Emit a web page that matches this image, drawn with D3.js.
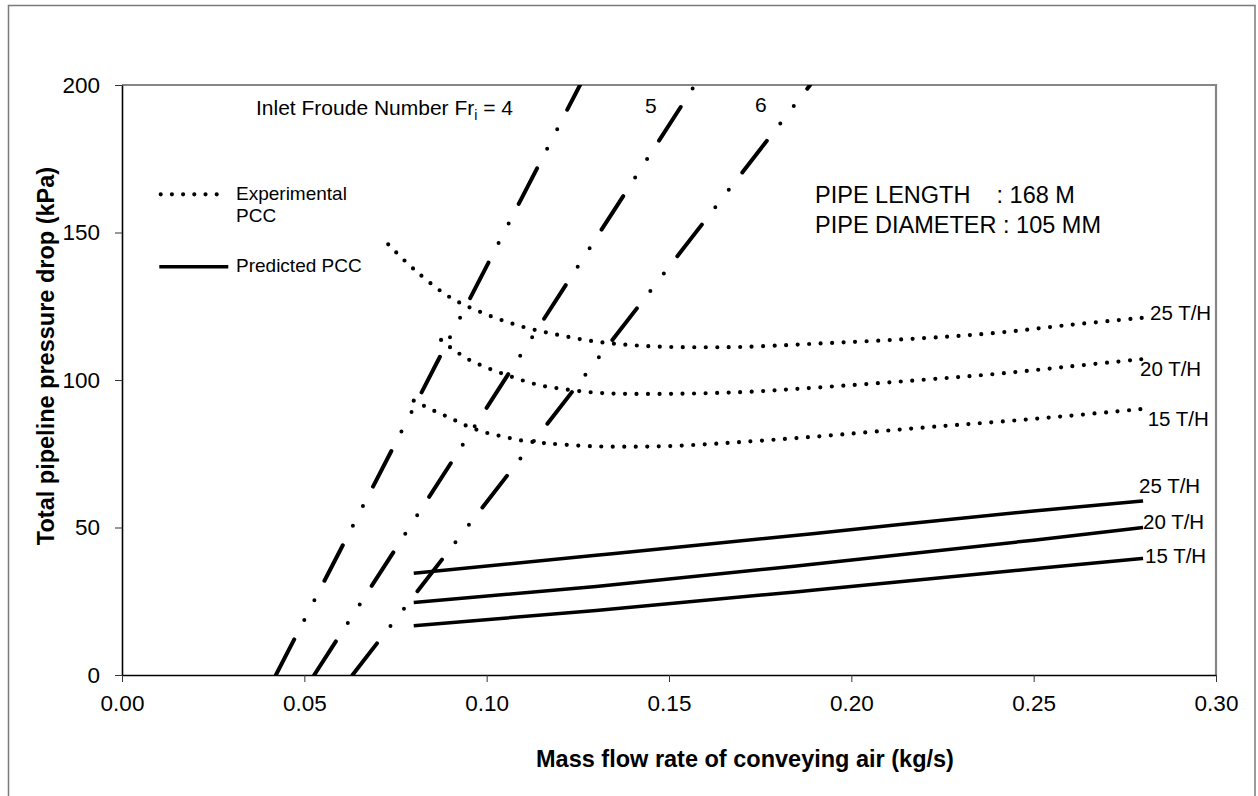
<!DOCTYPE html>
<html>
<head>
<meta charset="utf-8">
<script src="https://cdn.jsdelivr.net/npm/d3@7"></script>
<style>
  html, body { margin: 0; padding: 0; background: #fff; }
  svg text { font-family: "Liberation Sans", Arial, Helvetica, sans-serif; fill: #000; }
</style>
</head>
<body>
<svg id="chart" width="1258" height="796"></svg>
<script>
// ---------- data ----------
const xTicks = [0, 0.05, 0.10, 0.15, 0.20, 0.25, 0.30];
const yTicks = [0, 50, 100, 150, 200];

// Experimental PCC (dotted)
const exp25X = [0.073, 0.08, 0.09, 0.10, 0.11, 0.12, 0.13, 0.14, 0.15, 0.16, 0.17, 0.19, 0.22, 0.24, 0.26, 0.28];
const exp25Y = [146, 137.6, 128.0, 122.2, 118.0, 115.2, 113.0, 111.8, 111.2, 111.1, 111.2, 112.3, 114.2, 116.0, 118.7, 121.1];
const exp20X = [0.0875, 0.09, 0.095, 0.10, 0.105, 0.11, 0.115, 0.12, 0.125, 0.13, 0.135, 0.15, 0.17, 0.19, 0.22, 0.24, 0.26, 0.28];
const exp20Y = [113.6, 111.1, 107.0, 104.2, 101.9, 99.8, 98.1, 97.1, 96.3, 95.7, 95.4, 95.3, 95.9, 97.4, 100.1, 102.1, 104.6, 107.1];
const exp15X = [0.08, 0.085, 0.09, 0.095, 0.10, 0.105, 0.11, 0.115, 0.12, 0.13, 0.14, 0.15, 0.16, 0.17, 0.19, 0.22, 0.24, 0.26, 0.28];
const exp15Y = [93.0, 89.9, 87.1, 84.2, 82.1, 80.7, 79.4, 78.7, 78.2, 77.5, 77.4, 77.6, 78.2, 79.0, 80.8, 83.9, 85.8, 87.9, 90.2];

// Predicted PCC (solid)
const predX = [0.08, 0.13, 0.19, 0.25, 0.28];
const pred25Y = [34.5, 40.6, 48.0, 55.6, 59.0];
const pred20Y = [24.6, 30.0, 37.6, 45.7, 50.0];
const pred15Y = [16.7, 21.9, 28.8, 36.0, 39.5];

// Inlet Froude number lines (x at 0 kPa, x at 200 kPa)
const froudeNumbers = [4, 5, 6];
const froudeX = [[0.0422, 0.1256], [0.0527, 0.1571], [0.0632, 0.1887]];
const froudeY = [0, 200];

const expLabels = ["25 T/H", "20 T/H", "15 T/H"];
const predLabels = ["25 T/H", "20 T/H", "15 T/H"];

// ---------- layout ----------
const svg = d3.select("#chart");
const L = 122, R = 1216, T = 85, B = 675;
const x = d3.scaleLinear().domain([0, 0.30]).range([L, R]);
const y = d3.scaleLinear().domain([0, 200]).range([B, T]);

// outer frame
svg.append("rect").attr("x", 8.5).attr("y", 5.5).attr("width", 1246.5).attr("height", 810)
  .attr("fill", "none").attr("stroke", "#7a7a7a").attr("stroke-width", 1.5);

// plot area top & right border (grey)
svg.append("path")
  .attr("d", `M${L},${T}H${R}V${B}`)
  .attr("fill", "none").attr("stroke", "#868686").attr("stroke-width", 2.2);

const clip = svg.append("defs").append("clipPath").attr("id", "plotclip");
clip.append("rect").attr("x", L).attr("y", T).attr("width", R - L).attr("height", B - T);

// axes
const yAxis = d3.axisLeft(y).tickValues(yTicks).tickSize(7).tickSizeOuter(0).tickPadding(15)
  .tickFormat(d3.format("d"));
const xAxis = d3.axisBottom(x).tickValues(xTicks).tickSize(7).tickSizeOuter(0).tickPadding(13)
  .tickFormat(d3.format(".2f"));

const gy = svg.append("g").attr("transform", `translate(${L},0)`).call(yAxis);
const gx = svg.append("g").attr("transform", `translate(0,${B})`).call(xAxis);
[gx, gy].forEach(g => {
  g.select(".domain").attr("stroke", "#000").attr("stroke-width", 1.6);
  g.selectAll(".tick line").attr("stroke", "#333").attr("stroke-width", 1);
  g.selectAll(".tick text").attr("font-size", 22.5).attr("fill", "#000")
    .style("font-family", '"Liberation Sans", Arial, sans-serif');
});

// axis titles
svg.append("text").attr("x", 745).attr("y", 767).attr("text-anchor", "middle")
  .attr("font-size", 23.5).attr("font-weight", "bold")
  .text("Mass flow rate of conveying air (kg/s)");
svg.append("text").attr("transform", "translate(53.5,356) rotate(-90)").attr("text-anchor", "middle")
  .attr("font-size", 23.5).attr("font-weight", "bold")
  .text("Total pipeline pressure drop (kPa)");

// plot content
const plot = svg.append("g").attr("clip-path", "url(#plotclip)");

const lineCurve = d3.line().x(d => x(d[0])).y(d => y(d[1])).curve(d3.curveCatmullRom);
const lineMono = d3.line().x(d => x(d[0])).y(d => y(d[1])).curve(d3.curveMonotoneX);

// Froude number lines
froudeX.forEach(fx => {
  const pts = [[fx[0], froudeY[0]], [fx[1], froudeY[1]]];
  plot.append("path").attr("d", d3.line().x(d => x(d[0])).y(d => y(d[1]))(pts))
    .attr("fill", "none").attr("stroke", "#000").attr("stroke-width", 4)
    .attr("stroke-linecap", "round").attr("stroke-dasharray", "40 22 0 22 0 22");
});

// experimental curves
[[exp25X, exp25Y], [exp20X, exp20Y], [exp15X, exp15Y]].forEach(([xs, ys]) => {
  const pts = xs.map((v, i) => [v, ys[i]]);
  plot.append("path").attr("d", lineCurve(pts))
    .attr("fill", "none").attr("stroke", "#000").attr("stroke-width", 4.2)
    .attr("stroke-linecap", "round").attr("stroke-dasharray", "0 11.5");
});

// predicted curves
[pred25Y, pred20Y, pred15Y].forEach(ys => {
  const pts = predX.map((v, i) => [v, ys[i]]);
  plot.append("path").attr("d", lineMono(pts))
    .attr("fill", "none").attr("stroke", "#000").attr("stroke-width", 3.5);
});

// labels for curves
const expLabelPos = [[1150, 320], [1140, 376], [1147.7, 426]];
expLabels.forEach((t, i) => {
  svg.append("text").attr("x", expLabelPos[i][0]).attr("y", expLabelPos[i][1])
    .attr("font-size", 20.5).text(t);
});
const predLabelPos = [[1139, 492.7], [1143, 529.3], [1145, 562.7]];
predLabels.forEach((t, i) => {
  svg.append("text").attr("x", predLabelPos[i][0]).attr("y", predLabelPos[i][1])
    .attr("font-size", 20.5).text(t);
});

// Froude annotations
const fr = svg.append("text").attr("x", 256).attr("y", 115).attr("font-size", 21);
fr.append("tspan").text("Inlet Froude Number Fr");
fr.append("tspan").attr("font-size", 14).attr("dy", 5).text("i");
fr.append("tspan").attr("dy", -5).text(" = " + froudeNumbers[0]);
svg.append("text").attr("x", 645).attr("y", 112.7).attr("font-size", 21).text(froudeNumbers[1]);
svg.append("text").attr("x", 755).attr("y", 111.7).attr("font-size", 21).text(froudeNumbers[2]);

// pipe info
svg.append("text").attr("x", 815).attr("y", 203.3).attr("font-size", 23.5)
  .attr("xml:space", "preserve").style("white-space", "pre").text("PIPE LENGTH    : 168 M");
svg.append("text").attr("x", 815).attr("y", 233.3).attr("font-size", 23.5)
  .text("PIPE DIAMETER : 105 MM");

// legend
svg.append("line").attr("x1", 160.7).attr("x2", 217.5).attr("y1", 194.3).attr("y2", 194.3)
  .attr("stroke", "#000").attr("stroke-width", 4.2).attr("stroke-linecap", "round")
  .attr("stroke-dasharray", "0 11.2");
svg.append("text").attr("x", 236).attr("y", 199.5).attr("font-size", 19).text("Experimental");
svg.append("text").attr("x", 236).attr("y", 221.7).attr("font-size", 19).text("PCC");
svg.append("line").attr("x1", 159.3).attr("x2", 228.3).attr("y1", 266.7).attr("y2", 266.7)
  .attr("stroke", "#000").attr("stroke-width", 3.5);
svg.append("text").attr("x", 236).attr("y", 272.3).attr("font-size", 19).text("Predicted PCC");
</script>
</body>
</html>
